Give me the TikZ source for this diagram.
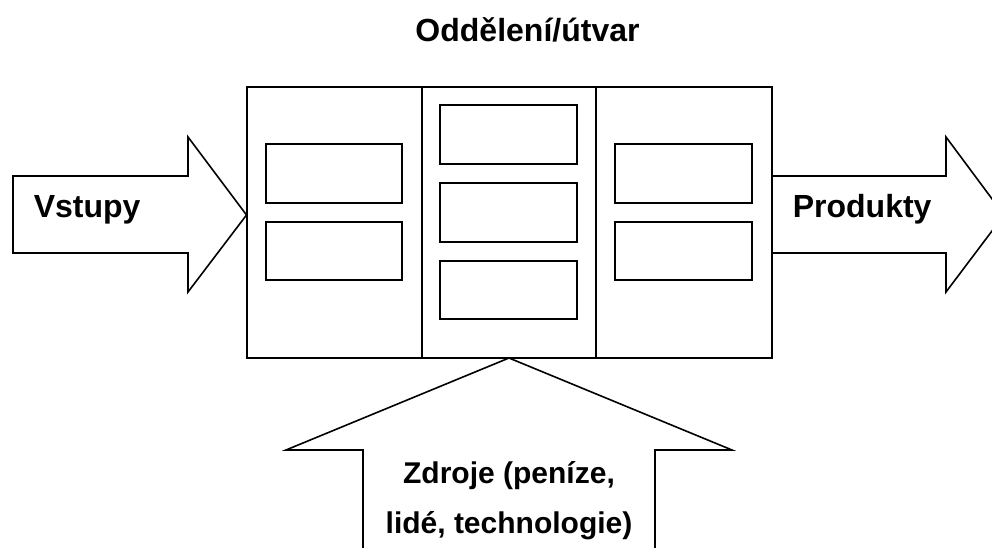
\documentclass[tikz,border=0pt]{standalone}
\usepackage{fontspec}
\setmainfont{Liberation Sans}
\begin{document}
\begin{tikzpicture}[x=1pt,y=-1pt,line width=1.6pt,line join=miter,
  lbl/.style={font=\fontsize{32}{38}\selectfont\bfseries,inner sep=0pt,anchor=base west},
  smalllbl/.style={font=\fontsize{30}{36}\selectfont\bfseries,inner sep=0pt,anchor=base},
  cell/.style={draw,line width=1.6pt,inner sep=0pt,minimum width=136.5pt,minimum height=58.5pt},
  fatarrow/.style={draw,fill=white,line width=1.6pt}]
\useasboundingbox (0,0) rectangle (992,548);
\clip (0,0) rectangle (992,548);
% main box
\coordinate (bTL) at (247,87);
\coordinate (bBR) at (772,358);
\coordinate (tipIn) at (246.5,215);
\coordinate (tipUp) at (509,358);
% input arrow
\draw[fatarrow] (13,176) -- (188,176) -- (188,137) -- (tipIn) -- (188,292) -- (188,253) -- (13,253) -- cycle;
% output arrow
\draw[fatarrow] (772,176) -- (946,176) -- (946,137) -- (1004,215) -- (946,292) -- (946,253) -- (772,253);
% resources arrow
\draw[fatarrow] (363,560) -- (363,450) -- (286,450) -- (tipUp) -- (732,450) -- (655,450) -- (655,560);
% department box
\draw (bTL) rectangle (bBR);
\draw (422,87) -- (422,358);
\draw (596,87) -- (596,358);
% cells
\node[cell] (l1) at (334,173.5) {};
\node[cell] (l2) at (334,251) {};
\node[cell] (m1) at (508.5,134.5) {};
\node[cell] (m2) at (508.5,212.5) {};
\node[cell] (m3) at (508.5,290) {};
\node[cell] (r1) at (683.5,173.5) {};
\node[cell] (r2) at (683.5,251) {};
% labels
\node[lbl,anchor=base] (title) at (527.5,42) {Oddělení/útvar};
\node[lbl] (vstupy) at (33,217) {Vstupy};
\node[lbl] (produkty) at (792,217) {Produkty};
\node[smalllbl] (zdroje1) at (509,483) {Zdroje (peníze,};
\node[smalllbl] (zdroje2) at (509,533) {lidé, technologie)};
\end{tikzpicture}
\end{document}
